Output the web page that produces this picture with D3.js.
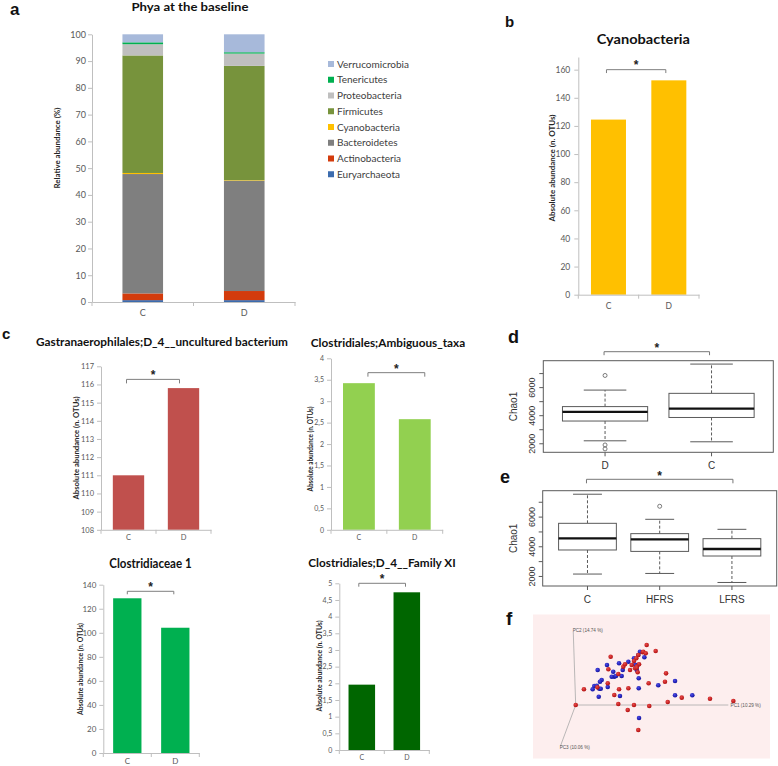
<!DOCTYPE html>
<html><head><meta charset="utf-8">
<script src="https://cdn.jsdelivr.net/npm/d3@7"></script>
<style>body{margin:0;background:#fff} svg{display:block}</style>
</head><body>
<svg id="fig" width="778" height="766"></svg>
<script>
// ---------------- DATA ----------------
const phyla = ["Euryarchaeota","Actinobacteria","Bacteroidetes","Cyanobacteria","Firmicutes","Proteobacteria","Tenericutes","Verrucomicrobia"];
const groupsCD = ["C","D"];
const phylaC = [0.7, 2.5, 44.6, 0.4, 43.9, 4.2, 0.7, 3.0];
const phylaD = [0.7, 3.4, 41.2, 0.2, 42.7, 4.6, 0.5, 6.7];
const pctTicks = [0,10,20,30,40,50,60,70,80,90,100];

const cyanoValues = [124.5, 152.4];
const cyanoTicks = [0,20,40,60,80,100,120,140,160];
const gastranValues = [111.0, 115.8];
const gastranTicks = [108,109,110,111,112,113,114,115,116,117];
const ambiguousValues = [3.42, 2.58];
const ambiguousTicks = [0,0.5,1,1.5,2,2.5,3,3.5,4];
const clostridiaceaeValues = [128.7, 104.2];
const clostridiaceaeTicks = [0,20,40,60,80,100,120,140];
const familyXIValues = [1.96, 4.73];
const familyXITicks = [0,0.5,1,1.5,2,2.5,3,3.5,4,4.5,5];

// Chao1 box plots (panel d)
const chaoDGroups = ["D","C"];
const chaoDLo  = [2211, 2141];
const chaoDQ1  = [3620, 3873];
const chaoDMed = [4275, 4507];
const chaoDQ3  = [4648, 5592];
const chaoDHi  = [5824, 7676];
const chaoDOut = [[6866, 1915, 1634], []];
// panel e
const chaoEGroups = ["C","HFRS","LFRS"];
const chaoELo  = [2162, 2203, 1595];
const chaoEQ1  = [3784, 3689, 3378];
const chaoEMed = [4568, 4500, 3851];
const chaoEQ3  = [5581, 4885, 4547];
const chaoEHi  = [7541, 5851, 5176];
const chaoEOut = [[], [6730], []];
const chaoTicks = [2000,3000,4000,5000,6000,7000];
const chaoTickLabels = [2000,4000,6000];

// PCoA (panel f): projected scores, % of axis length [PC1, PC2]
const pcoaRed = [[0,0],[46.5,81.9],[52.4,73.7],[22.9,65.9],[43.9,71.9],[41.0,68.2],[39.7,63.7],[38.2,60.0],[41.5,55.5],[40.0,52.3],[36.7,54.6],[31.2,52.3],[21.4,48.7],[35.6,47.7],[38.9,50.1],[27.9,42.3],[21.0,29.6],[59.2,43.2],[58.5,31.8],[47.8,29.6],[5.4,21.4],[14.2,24.1],[28.4,21.4],[34.5,22.8],[25.3,13.6],[69.5,10.0],[88.0,8.6],[103.3,5.5],[60.3,4.1],[27.9,1.4],[38.2,0],[48.2,-1.4],[34.1,-6.8],[41.0,-34.1],[40.6,44.6],[44.3,72.7],[45.9,70.5],[32.3,55.5],[40.0,50.9]];
const pcoaBlue = [[14.4,47.7],[20.5,54.6],[28.4,56.9],[34.5,59.1],[38.2,63.7],[42.1,72.7],[45.0,65.1],[40.6,54.6],[30.8,47.7],[24.6,45.4],[25.3,38.6],[26.4,39.6],[30.1,39.6],[17.0,34.1],[15.9,31.8],[12.2,25.9],[13.8,26.3],[11.1,21.4],[15.5,22.2],[16.4,22.2],[21.0,24.6],[29.0,12.3],[15.1,11.3],[41.3,22.8],[54.1,26.9],[65.1,32.7],[65.1,13.2],[76.4,13.2],[41.5,-17.7],[41.3,36.4],[40.0,47.7],[23.6,38.6],[41.0,68.2],[39.0,55.0]];
const pcoaAxisLabels = ["PC1 (10.29 %)","PC2 (14.74 %)","PC3 (10.06 %)"];

// ---------------- STYLE ----------------
const phylaColors = ["#3c6cae","#d33b0c","#7f7f7f","#ffc000","#77933c","#bfbfbf","#00b050","#a7b9da"];
const XF = "Lato, 'Open Sans', sans-serif";
const RF = "'Liberation Sans', Arial, sans-serif";
const AX = "#bfbfbf", TICKTXT = "#595959";

const svg = d3.select("#fig");
svg.append("rect").attr("width",778).attr("height",766).attr("fill","#fff");

function panelLabel(t,x,y,size){
  svg.append("text").attr("x",x).attr("y",y).text(t)
    .attr("font-family",RF).attr("font-weight","bold").attr("font-size",size).attr("fill","#111");
}
function title(t,cx,y,size,len){
  svg.append("text").attr("x",cx).attr("y",y).attr("text-anchor","middle").text(t)
    .attr("font-family",XF).attr("font-weight","bold").attr("font-size",size).attr("fill","#111")
    .attr("textLength",len).attr("lengthAdjust","spacingAndGlyphs");
}
function vlabel(t,cx,cy,size,len,fam,weight,fill){
  svg.append("text").attr("transform",`translate(${cx},${cy}) rotate(-90)`)
    .attr("text-anchor","middle").text(t)
    .attr("font-family",fam||XF).attr("font-weight",weight||"bold").attr("font-size",size).attr("fill",fill||"#262626")
    .attr("textLength",len||null).attr("lengthAdjust","spacingAndGlyphs");
}
function styleAxis(a,fs){
  a.select(".domain").attr("stroke",AX);
  a.selectAll(".tick line").attr("stroke",AX);
  a.selectAll(".tick text").attr("fill",TICKTXT).attr("font-family",XF).attr("font-size",fs);
}
function bracket(x1,x2,y,drop,starY,col){
  const g = svg.append("g");
  g.append("path").attr("d",`M${x1},${y+drop}V${y}H${x2}V${y+drop}`).attr("fill","none").attr("stroke",col||"#7f7f7f").attr("stroke-width",1);
  g.append("text").attr("x",(x1+x2)/2).attr("y",starY).attr("text-anchor","middle").text("*")
    .attr("font-family",RF).attr("font-weight","bold").attr("font-size",12).attr("fill","#222");
}

// Excel-like bar chart
function excelBar(o){
  const g = svg.append("g");
  const x = d3.scaleBand().domain(o.cats).range([o.x0,o.x1]).paddingInner(o.pad).paddingOuter(o.pad/2);
  const y = d3.scaleLinear().domain(o.domain).range([o.yb,o.yt]);
  if(o.stacks){
    g.selectAll("rect").data(o.stacks).join("rect")
      .attr("x",d=>x(d.g)).attr("width",x.bandwidth())
      .attr("y",d=>y(d.y1)).attr("height",d=>y(d.y0)-y(d.y1)).attr("fill",d=>d.c);
  } else {
    g.selectAll("rect").data(o.values).join("rect")
      .attr("x",(d,i)=>x(o.cats[i])).attr("width",x.bandwidth())
      .attr("y",d=>y(d)).attr("height",d=>y(o.domain[0])-y(d)).attr("fill",o.color);
  }
  const ya = g.append("g").attr("transform",`translate(${o.x0},0)`)
    .call(d3.axisLeft(y).tickValues(o.ticks).tickFormat(o.fmt||(d=>String(d).replace(".",",")))
      .tickSize(4).tickSizeOuter(0).tickPadding(o.tp||3));
  styleAxis(ya,o.tfs);
  const xa = g.append("g").attr("transform",`translate(0,${o.yb})`)
    .call(d3.axisBottom(x).tickSize(0).tickSizeOuter(0).tickPadding(o.xp||6));
  styleAxis(xa,o.tfs);
  const n=o.cats.length;
  const bounds=d3.range(n+1).map(i=>o.x0+i*(o.x1-o.x0)/n);
  g.selectAll("line.bt").data(bounds).join("line").attr("class","bt")
    .attr("x1",d=>d).attr("x2",d=>d).attr("y1",o.yb).attr("y2",o.yb+4).attr("stroke",AX);
  if(o.br){
    const b=o.br;
    bracket(x(o.cats[0])+x.bandwidth()/2+(b.dx1||0), x(o.cats[1])+x.bandwidth()/2+(b.dx2||0), y(b.v), b.drop, y(b.v)+b.sy);
  }
  return {x,y};
}

// ---------- Panel a ----------
panelLabel("a",10,15,17);
title("Phya at the baseline",190,11,12,117);
{
  const stacks=[];
  groupsCD.forEach((g,i)=>{ const vals=i===0?phylaC:phylaD; let cum=0;
    vals.forEach((v,k)=>{ stacks.push({g,y0:cum,y1:cum+v,c:phylaColors[k]}); cum+=v; }); });
  excelBar({cats:groupsCD,stacks,x0:92,x1:295,yb:302,yt:34.3,domain:[0,100],ticks:pctTicks,pad:0.6,tfs:9,tp:2,xp:8,fmt:d=>d});
  vlabel("Relative abundance (%)",60,148,8,81);
  // legend
  const leg = svg.append("g");
  const order = d3.range(phyla.length).reverse();
  leg.selectAll("rect").data(order).join("rect")
    .attr("x",328).attr("y",(d,i)=>61+i*15.75).attr("width",6).attr("height",6).attr("fill",d=>phylaColors[d]);
  leg.selectAll("text").data(order).join("text")
    .attr("x",337).attr("y",(d,i)=>67.5+i*15.75).text(d=>phyla[d])
    .attr("font-family",XF).attr("font-size",10).attr("fill","#404040");
}

// ---------- Panel b ----------
panelLabel("b",505,26.7,15);
title("Cyanobacteria",643.3,43.5,14,93.3);
excelBar({cats:groupsCD,values:cyanoValues,color:"#ffc000",x0:578.3,x1:699,yb:294.7,yt:57,domain:[0,169],ticks:cyanoTicks,pad:0.42,tfs:8.5,tp:4,xp:8,
  br:{v:160,drop:3.4,sy:-1,dx1:-2,dx2:-3}});
vlabel("Absolute abundance (n. OTUs)",554.5,168,8,107);

// ---------- Panel c ----------
panelLabel("c",2,339.3,15);
title("Gastranaerophilales;D_4__uncultured bacterium",162,345.5,12,252);
excelBar({cats:groupsCD,values:gastranValues,color:"#c0504d",x0:101,x1:211,yb:529.8,yt:366.3,domain:[108,117],ticks:gastranTicks,pad:0.43,tfs:7.5,tp:3,xp:5,
  br:{v:116.28,drop:4,sy:0,dx1:-2,dx2:-4}});
vlabel("Absolute abundance (n. OTUs)",78.5,448,8,103);

title("Clostridiales;Ambiguous_taxa",388,347,12,154.3);
excelBar({cats:groupsCD,values:ambiguousValues,color:"#92d050",x0:331,x1:442.7,yb:529.8,yt:358.3,domain:[0,4],ticks:ambiguousTicks,pad:0.43,tfs:7,tp:3,xp:5,
  br:{v:3.665,drop:4,sy:0,dx1:9,dx2:10}});
vlabel("Absolute abundance (n. OTUs)",312.5,449,6.5,85);

title("Clostridiaceae 1",150.5,568,14,82.3);
excelBar({cats:groupsCD,values:clostridiaceaeValues,color:"#00b050",x0:103.3,x1:199.3,yb:753,yt:584.7,domain:[0,140],ticks:clostridiaceaeTicks,pad:0.41,tfs:8,tp:3,xp:5,
  br:{v:134.5,drop:3,sy:0,dx1:0,dx2:-1.5}});
vlabel("Absolute abundance (n. OTUs)",82.5,669,7,92);

title("Clostridiales;D_4__Family XI",382,567,12,147.4);
excelBar({cats:groupsCD,values:familyXIValues,color:"#006600",x0:339.3,x1:429.3,yb:750,yt:583.3,domain:[0,5],ticks:familyXITicks,pad:0.41,tfs:7,tp:3,xp:5,
  br:{v:5,drop:3.4,sy:0,dx1:-3,dx2:-1.3}});
vlabel("Absolute abundance (n. OTUs)",321.8,666,7,91);

// ---------- R box plots ----------
function rBox(o){
  const g = svg.append("g");
  const n=o.groups.length;
  const x=d3.scalePoint().domain(o.groups).range([o.fx0,o.fx1]).padding(0.5+0.04*n);
  const all=[...o.lo,...o.hi,...o.out.flat()];
  const [mn,mx]=d3.extent(all), pd=(mx-mn)*0.04;
  const y=d3.scaleLinear().domain([mn-pd,mx+pd]).range([o.fy1,o.fy0]);
  const bw=x.step()*0.8;
  const col="#5a5a5a";
  o.groups.forEach((gr,i)=>{
    const cx=x(gr);
    g.append("line").attr("x1",cx).attr("x2",cx).attr("y1",y(o.q3[i])).attr("y2",y(o.hi[i])).attr("stroke",col).attr("stroke-dasharray","3,2");
    g.append("line").attr("x1",cx).attr("x2",cx).attr("y1",y(o.q1[i])).attr("y2",y(o.lo[i])).attr("stroke",col).attr("stroke-dasharray","3,2");
    [o.hi[i],o.lo[i]].forEach(v=>g.append("line").attr("x1",cx-bw/4).attr("x2",cx+bw/4).attr("y1",y(v)).attr("y2",y(v)).attr("stroke",col));
    g.append("rect").attr("x",cx-bw/2).attr("width",bw).attr("y",y(o.q3[i])).attr("height",y(o.q1[i])-y(o.q3[i]))
      .attr("fill","#fff").attr("stroke",col);
    g.append("line").attr("x1",cx-bw/2).attr("x2",cx+bw/2).attr("y1",y(o.med[i])).attr("y2",y(o.med[i])).attr("stroke","#111").attr("stroke-width",2.4);
    o.out[i].forEach(v=>g.append("circle").attr("cx",cx).attr("cy",y(v)).attr("r",2).attr("fill","none").attr("stroke",col).attr("stroke-width",0.8));
    g.append("line").attr("x1",cx).attr("x2",cx).attr("y1",o.fy1).attr("y2",o.fy1+4).attr("stroke",col);
    g.append("text").attr("x",cx).attr("y",o.fy1+17).attr("text-anchor","middle").text(gr)
      .attr("font-family",RF).attr("font-size",10).attr("fill","#333");
  });
  g.append("rect").attr("x",o.fx0).attr("y",o.fy0).attr("width",o.fx1-o.fx0).attr("height",o.fy1-o.fy0)
    .attr("fill","none").attr("stroke",col);
  chaoTicks.forEach(t=>g.append("line").attr("x1",o.fx0).attr("x2",o.fx0-4).attr("y1",y(t)).attr("y2",y(t)).attr("stroke",col));
  chaoTickLabels.forEach(t=>g.append("text").attr("transform",`translate(535,${y(t)}) rotate(-90)`).attr("text-anchor","middle")
    .text(t).attr("font-family",RF).attr("font-size",9).attr("fill","#333"));
  vlabel("Chao1",516.5,(o.fy0+o.fy1)/2,10,null,RF,"normal","#333");
  const b=o.br;
  bracket(x(o.groups[b.a])+(b.dx1||0), x(o.groups[b.b])+(b.dx2||0), b.y, b.drop, b.sy, "#777");
}
panelLabel("d",508,343.3,18);
rBox({groups:chaoDGroups,lo:chaoDLo,q1:chaoDQ1,med:chaoDMed,q3:chaoDQ3,hi:chaoDHi,out:chaoDOut,
  fx0:543.3,fx1:773.3,fy0:360.7,fy1:452.3,br:{a:0,b:1,y:351.7,drop:3.5,sy:352,dx1:-1,dx2:-2}});
panelLabel("e",500,483.3,18);
rBox({groups:chaoEGroups,lo:chaoELo,q1:chaoEQ1,med:chaoEMed,q3:chaoEQ3,hi:chaoEHi,out:chaoEOut,
  fx0:542.7,fx1:776.7,fy0:490.7,fy1:586,br:{a:0,b:2,y:479.3,drop:4,sy:479.5,dx1:-1,dx2:1}});

// ---------- Panel f ----------
panelLabel("f",506,625,19);
{
  const g=svg.append("g");
  g.append("rect").attr("x",533).attr("y",614.5).attr("width",237).attr("height",144).attr("fill","#fdeeee");
  const xf=d3.scaleLinear().domain([0,100]).range([575.7,728.3]);
  const yf=d3.scaleLinear().domain([0,100]).range([705,631.7]);
  const ax="#a8a8a8";
  g.append("line").attr("x1",xf(0)).attr("y1",yf(0)).attr("x2",xf(100)).attr("y2",yf(0)).attr("stroke",ax).attr("stroke-width",0.8);
  g.append("line").attr("x1",xf(0)).attr("y1",yf(0)).attr("x2",xf(-1.6)).attr("y2",yf(100)).attr("stroke",ax).attr("stroke-width",0.8);
  g.append("line").attr("x1",xf(0)).attr("y1",yf(0)).attr("x2",xf(-10)).attr("y2",yf(-56)).attr("stroke",ax).attr("stroke-width",0.8);
  const lab=(t,x,y)=>g.append("text").attr("x",x).attr("y",y).text(t).attr("font-family",RF).attr("font-size",4.6).attr("fill","#555");
  lab(pcoaAxisLabels[0],xf(101.5),yf(-3));
  lab(pcoaAxisLabels[1],xf(-2),yf(99));
  lab(pcoaAxisLabels[2],xf(-10.5),yf(-60.5));
  const defs=svg.append("defs");
  [["gr","#e84a4a","#b00e0e"],["gb","#4a4ae8","#10109c"]].forEach(([id,c1,c2])=>{
    const rg=defs.append("radialGradient").attr("id",id).attr("cx","40%").attr("cy","35%").attr("r","65%");
    rg.append("stop").attr("offset","0%").attr("stop-color",c1);
    rg.append("stop").attr("offset","100%").attr("stop-color",c2);
  });
  g.selectAll("circle.b").data(pcoaBlue).join("circle").attr("class","b")
    .attr("cx",d=>xf(d[0])).attr("cy",d=>yf(d[1])).attr("r",2.3).attr("fill","url(#gb)");
  g.selectAll("circle.r").data(pcoaRed).join("circle").attr("class","r")
    .attr("cx",d=>xf(d[0])).attr("cy",d=>yf(d[1])).attr("r",2.3).attr("fill","url(#gr)");
}
</script>
</body></html>
